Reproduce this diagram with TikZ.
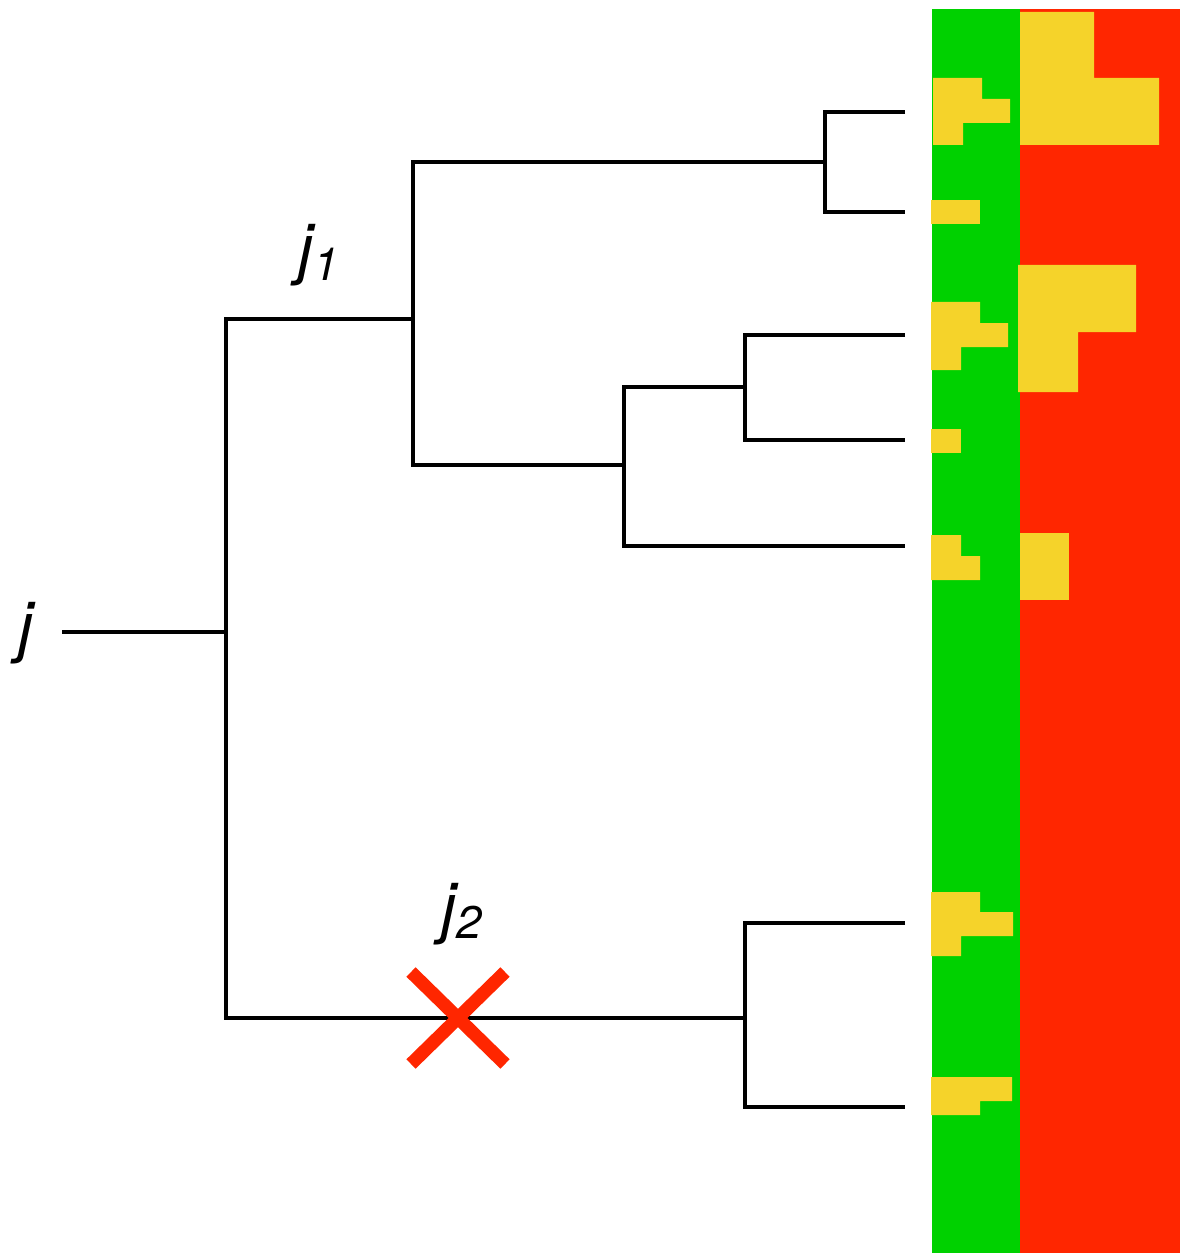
\documentclass[tikz,border=0pt]{standalone}
\usepackage{fontspec}
\setsansfont{TeX Gyre Heros}
\usepackage{tikz}
\usetikzlibrary{positioning, calc}
\definecolor{leafgreen}{HTML}{00D100}
\definecolor{hotred}{HTML}{FF2600}
\definecolor{sunyellow}{HTML}{F5D32A}
\newcommand{\jlab}[1]{j\raisebox{-0.12em}{\fontsize{26}{28}\selectfont #1}}

\begin{document}
\begin{tikzpicture}[
      x=0.02cm, y=-0.02cm,
      tree/.style={line width=2pt, black},
      lab/.style={font=\fontsize{38}{40}\selectfont\sffamily\itshape, inner sep=0pt, anchor=base},
      spot/.style={fill=sunyellow, draw=none},
      cross/.style={line width=7.5pt, hotred},
    ]
      \useasboundingbox (0,0) rectangle (1180,1253);

      % colour columns
      \fill[leafgreen] (932,9) rectangle (1020,1253);
      \fill[hotred] (1020,9) rectangle (1180,1253);

      % yellow spots, green column
      \fill[spot] (933,78) -- (982,78) -- (982,99) -- (1010,99) -- (1010,123)
                  -- (963,123) -- (963,145) -- (933,145) -- cycle;
      \fill[spot] (931,200) rectangle (980,224);
      \fill[spot] (931,302) -- (980,302) -- (980,323) -- (1008,323) -- (1008,347)
                  -- (961,347) -- (961,370) -- (931,370) -- cycle;
      \fill[spot] (931,429) rectangle (961,453);
      \fill[spot] (931,535) -- (961,535) -- (961,556) -- (980,556) -- (980,580)
                  -- (931,580) -- cycle;
      \fill[spot] (931,892) -- (980,892) -- (980,912) -- (1013,912) -- (1013,936)
                  -- (961,936) -- (961,956) -- (931,956) -- cycle;
      \fill[spot] (931,1077) -- (1012,1077) -- (1012,1101) -- (980,1101) -- (980,1115)
                  -- (931,1115) -- cycle;

      % yellow spots, red column
      \fill[spot] (1020,12) -- (1094,12) -- (1094,78) -- (1159,78) -- (1159,145)
                  -- (1020,145) -- cycle;
      \fill[spot] (1018,265) -- (1136,265) -- (1136,332) -- (1078,332) -- (1078,392)
                  -- (1018,392) -- cycle;
      \fill[spot] (1020,533) rectangle (1069,600);

      % tree points
      \coordinate (r) at (62,632);
      \coordinate (a) at (226,632);
      \coordinate (b1) at (226,319);
      \coordinate (b2) at (226,1018);
      \coordinate (c1) at (413,319);
      \coordinate (d1) at (413,162);
      \coordinate (d2) at (413,465);
      \coordinate (e1) at (825,162);
      \coordinate (e2) at (624,465);
      \coordinate (f1) at (745,387);
      \coordinate (g) at (745,1018);
      \coordinate (l1) at (905,112);
      \coordinate (l2) at (905,212);
      \coordinate (l3) at (905,335);
      \coordinate (l4) at (905,440);
      \coordinate (l5) at (905,546);
      \coordinate (l6) at (905,923);
      \coordinate (l7) at (905,1107);

      \draw[tree] (r) -- (a);
      \draw[tree] (c1) -- (b1) -- (b2) -- (g);
      \draw[tree] (e1) -- (d1) -- (d2) -- (e2);
      \draw[tree] (l1) -| (e1) |- (l2);
      \draw[tree] (f1) -| (e2) |- (l5);
      \draw[tree] (l3) -| (f1) |- (l4);
      \draw[tree] (l6) -| (g) |- (l7);

      % labels
      \node[lab] (jroot) at (26,649) {j};
      \node[lab] (jone) at (319,272) {\jlab{1}};
      \node[lab] (jtwo) at (462,930) {\jlab{2}};

      % cut mark
      \coordinate (x) at (458,1018);
      \draw[cross] ($(x)+(-47,-46)$) -- ($(x)+(47,46)$);
      \draw[cross] ($(x)+(-47,46)$) -- ($(x)+(47,-46)$);
    \end{tikzpicture}
\end{document}
